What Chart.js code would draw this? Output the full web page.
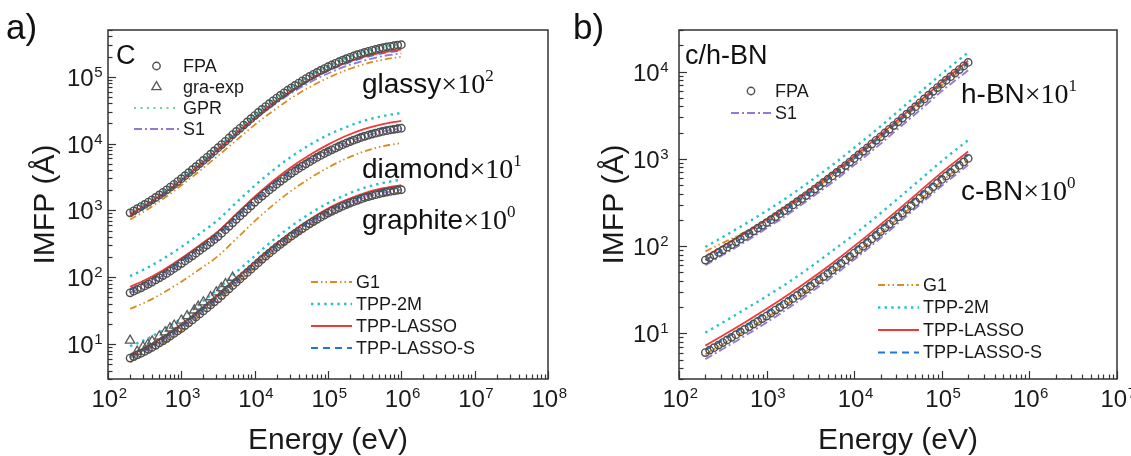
<!DOCTYPE html>
<html>
<head>
<meta charset="utf-8">
<script src="https://cdn.jsdelivr.net/npm/chart.js@4.4.1/dist/chart.umd.min.js"></script>
<style>
  html, body { margin: 0; padding: 0; background: #fff; }
  #wrap { position: relative; width: 1131px; height: 456px; overflow: hidden; background: #fff; }
  canvas { position: absolute; top: 0; }
  #chartA { left: 0; z-index: 2; }
  #chartB { left: 565px; z-index: 1; }
</style>
</head>
<body>
<div id="wrap">
  <canvas id="chartA" width="585" height="456"></canvas>
  <canvas id="chartB" width="566" height="456"></canvas>
</div>
<script>
// ============================================================================
// IMFP vs energy - panel a) carbon, panel b) c/h-BN
// ============================================================================

// ---- panel a) energies (eV) ----
const energyA = [200, 224, 251, 282, 316, 355, 398, 447, 501, 562, 631, 708, 794, 891,
    1000, 1122, 1259, 1413, 1585, 1778, 1995, 2239, 2512, 2818, 3162, 3548, 3981, 4467, 5012, 5623, 6310, 7079, 7943, 8913,
    10000, 11220, 12589, 14125, 15849, 17783, 19953, 22387, 25119, 28184, 31623, 35481, 39811, 44668, 50119, 56234, 63096, 70795, 79433, 89125,
    100000, 112202, 125893, 141254, 158489, 177828, 199526, 223872, 251189, 281838, 316228, 354813, 398107, 446684, 501187, 562341, 630957, 707946, 794328, 891251,
    1000000];
const energyLineA = [200, 316, 562, 1000, 1778, 3162, 5623, 10000, 17783, 31623, 56234, 100000, 177828, 316228, 562341, 1000000];

// FPA IMFP (Å), unscaled
const glassyFPA = [9.18, 9.84, 10.6, 11.4, 12.3, 13.3, 14.4, 15.6, 17.0, 18.6, 20.3, 22.3, 24.5, 27.0,
    29.8, 33.0, 36.6, 40.6, 45.1, 50.1, 55.8, 62.2, 69.3, 77.4, 86.5, 96.6, 108, 121, 136, 152, 169, 189, 211, 236,
    262, 292, 324, 358, 395, 436, 479, 525, 574, 627, 682, 741, 804, 869, 938, 1009, 1084, 1161, 1242, 1324,
    1409, 1496, 1585, 1675, 1766, 1858, 1950, 2042, 2133, 2223, 2312, 2399, 2483, 2564, 2642, 2716, 2786, 2851, 2911, 2965,
    3013];
const diamondFPA = [5.85, 6.18, 6.55, 6.95, 7.40, 7.91, 8.47, 9.10, 9.79, 10.6, 11.4, 12.4, 13.5, 14.7,
    16.0, 17.5, 19.1, 20.9, 22.9, 25.1, 27.6, 30.3, 33.3, 36.7, 40.5, 45.5, 51.3, 57.8, 65.2, 73.5, 82.6, 92.9, 104, 117,
    132, 147, 164, 182, 202, 223, 247, 272, 299, 327, 358, 390, 424, 459, 497, 536, 577, 619, 664, 710,
    757, 806, 857, 909, 962, 1015, 1069, 1123, 1178, 1232, 1285, 1336, 1384, 1430, 1476, 1519, 1560, 1598, 1633, 1665,
    1694];
const graphiteFPA = [6.17, 6.50, 6.89, 7.29, 7.74, 8.30, 8.91, 9.59, 10.4, 11.2, 12.1, 13.2, 14.4, 15.7,
    17.1, 18.9, 20.8, 23.0, 25.5, 28.2, 31.3, 34.7, 38.5, 42.8, 47.5, 53.2, 59.7, 67.0, 75.2, 84.3, 94.4, 106, 118, 132,
    148, 165, 185, 206, 229, 254, 281, 310, 341, 375, 411, 450, 491, 535, 581, 630, 681, 735, 791, 849,
    910, 970, 1030, 1093, 1156, 1221, 1285, 1351, 1416, 1481, 1545, 1606, 1663, 1720, 1774, 1826, 1875, 1921, 1963, 2002,
    2037];

// graphite experiment
const graExpE = [200, 250, 300, 350, 400, 500, 600, 700, 800, 1000, 1200, 1500, 1700, 2000, 2500, 3000, 3500, 4000, 5000];
const graExpV = [11.3, 7.73, 9.06, 9.89, 11.0, 13.0, 15.1, 17.2, 19.0, 22.6, 26.4, 32.0, 36.5, 42.3, 50.5, 59.7, 69.2, 79.1, 98.9];

// model curves (Å), on energyLineA
const glassyGPR = [9.18, 12.3, 18.6, 29.8, 50.1, 86.5, 152, 262, 436, 682, 1009, 1409, 1858, 2312, 2716, 3013];
const glassy2M = [9.4, 12.6, 19.0, 30.5, 51.3, 88.5, 155, 268, 446, 698, 1033, 1442, 1901, 2366, 2779, 3083];
const glassyLasso = [8.77, 11.7, 17.7, 28.4, 47.9, 81.7, 142, 242, 397, 615, 899, 1242, 1618, 1991, 2312, 2535];
const glassyLassoS = [8.18, 11.2, 17.1, 27.8, 46.8, 80.7, 140, 239, 393, 608, 889, 1227, 1581, 1945, 2259, 2477];
const glassyS1 = [8.38, 11.2, 16.9, 27.2, 45.7, 78.0, 135, 229, 371, 568, 820, 1119, 1442, 1754, 2037, 2234];
const glassyG1 = [7.29, 9.75, 14.8, 23.7, 38.9, 65.6, 112, 190, 308, 478, 698, 964, 1256, 1545, 1795, 1991];

const diamond2M = [10.4, 13.2, 18.8, 28.4, 44.7, 71.9, 131, 234, 397, 637, 953, 1346, 1764, 2208, 2580, 2877];
const diamondLasso = [7.19, 9.0, 12.7, 19.2, 30.2, 48.6, 88.3, 160, 275, 446, 675, 964, 1308, 1656, 1957, 2183];
const diamondLassoS = [6.56, 8.20, 11.6, 17.5, 27.5, 44.4, 80.5, 144, 248, 397, 601, 849, 1139, 1442, 1704, 1901];
const diamondS1 = [5.85, 7.40, 10.6, 16.0, 25.1, 40.5, 73.5, 132, 223, 358, 536, 757, 1015, 1285, 1519, 1694];
const diamondG1 = [3.37, 4.16, 5.81, 8.59, 13.2, 20.7, 37.7, 69.0, 120, 197, 301, 436, 598, 766, 915, 1021];

const graphite2M = [9.33, 11.5, 16.2, 24.2, 39.8, 67.1, 119, 208, 358, 581, 889, 1285, 1724, 2183, 2580, 2877];
const graphiteLasso = [6.92, 8.69, 12.6, 19.2, 31.6, 53.3, 94.6, 166, 288, 472, 731, 1069, 1434, 1816, 2146, 2393];
const graphiteLassoS = [6.61, 8.30, 12.0, 18.4, 30.2, 50.9, 90.4, 158, 272, 441, 675, 975, 1308, 1656, 1957, 2234];
const graphiteS1 = [6.17, 7.74, 11.2, 17.1, 28.2, 47.5, 84.3, 148, 254, 411, 630, 910, 1221, 1545, 1826, 2037];
const graphiteG1 = [5.37, 6.90, 10.2, 15.8, 26.3, 44.4, 78.7, 138, 234, 375, 574, 830, 1113, 1409, 1665, 1858];

// ---- panel b) energies (eV) ----
const energyB = [200, 224, 251, 282, 316, 355, 398, 447, 501, 562, 631, 708, 794, 891,
    1000, 1122, 1259, 1413, 1585, 1778, 1995, 2239, 2512, 2818, 3162, 3548, 3981, 4467, 5012, 5623, 6310, 7079, 7943, 8913,
    10000, 11220, 12589, 14125, 15849, 17783, 19953, 22387, 25119, 28184, 31623, 35481, 39811, 44668, 50119, 56234, 63096, 70795, 79433, 89125,
    100000, 112202, 125893, 141254, 158489, 177828, 200000];
const energyLineB = [200, 316, 562, 1000, 1778, 3162, 5623, 10000, 17783, 31623, 56234, 100000, 200000];

const hbnFPA = [6.92, 7.39, 7.90, 8.46, 9.07, 9.73, 10.4, 11.2, 12.0, 12.9, 13.9, 14.9, 16.1, 17.3,
    18.6, 20.1, 21.7, 23.5, 25.4, 27.4, 29.7, 32.3, 35.0, 38.0, 41.3, 45.1, 49.1, 53.6, 58.4, 63.7, 69.8, 76.5, 83.8, 91.8,
    101, 111, 122, 134, 148, 163, 179, 198, 218, 241, 266, 294, 325, 359, 397, 439, 486, 537, 594, 657,
    726, 797, 876, 962, 1056, 1160, 1274];
const cbnFPA = [6.03, 6.43, 6.86, 7.34, 7.85, 8.41, 9.02, 9.66, 10.4, 11.1, 11.9, 12.8, 13.7, 14.8,
    15.8, 17.1, 18.5, 19.9, 21.5, 23.2, 25.1, 27.2, 29.5, 32.0, 34.7, 37.8, 41.1, 44.8, 48.8, 53.1, 58.1, 63.5, 69.5, 76.0,
    83.2, 91.4, 100, 110, 121, 133, 147, 162, 178, 196, 216, 239, 264, 291, 321, 355, 392, 433, 478, 527,
    582, 638, 700, 767, 841, 923, 1012];

const hbn2M = [9.77, 12.7, 17.8, 25.4, 37.0, 55.7, 85.0, 134, 214, 350, 579, 946, 1660];
const hbnLasso = [7.59, 9.95, 14.0, 20.2, 29.4, 44.3, 68.3, 107, 172, 281, 460, 760, 1334];
const hbnLassoS = [6.92, 9.07, 12.9, 18.6, 27.4, 41.3, 63.7, 101, 163, 266, 439, 726, 1245];
const hbnS1 = [6.03, 7.90, 11.1, 16.0, 23.3, 35.2, 53.6, 84.7, 135, 221, 361, 597, 1035];
const hbnG1 = [8.71, 10.9, 14.5, 19.9, 28.7, 42.3, 63.7, 101, 159, 260, 424, 693, 1216];

const cbn2M = [10.2, 13.3, 18.8, 26.6, 38.5, 57.5, 88.1, 136, 216, 351, 575, 944, 1641];
const cbnLasso = [7.24, 9.44, 13.3, 19.1, 27.9, 41.7, 63.8, 100, 160, 260, 427, 700, 1216];
const cbnLassoS = [6.46, 8.41, 12.0, 17.4, 25.4, 38.0, 58.2, 91.2, 146, 237, 389, 638, 1109];
const cbnS1 = [5.07, 6.61, 9.33, 13.3, 19.5, 29.2, 44.7, 70.0, 112, 182, 299, 490, 851];
const cbnG1 = [5.75, 7.50, 10.6, 15.1, 22.1, 33.1, 50.7, 79.4, 127, 207, 339, 556, 966];

// multipliers written on the plot
const scaleGlassy = 100, scaleDiamond = 10, scaleGraphite = 1, scaleHBN = 10, scaleCBN = 1;

// axis ticks
const xTicksA = [1e2, 1e3, 1e4, 1e5, 1e6, 1e7, 1e8];
const yTicksA = [1e1, 1e2, 1e3, 1e4, 1e5];
const xTicksB = [1e2, 1e3, 1e4, 1e5, 1e6, 1e7];
const yTicksB = [1e1, 1e2, 1e3, 1e4];

// ============================================================================
const SANS = "'Liberation Sans', Arial, Helvetica, sans-serif";
const SERIF = "'Liberation Serif', 'Times New Roman', serif";
const INK = '#1a1a1a';

const ST = {
    FPA: { type: 'marker', pointStyle: 'circle', r: 3.7, color: '#4f4f4f', width: 1.4 },
    EXP: { type: 'marker', pointStyle: 'triangle', r: 5.4, color: '#5a5a5a', width: 1.3 },
    GPR: { type: 'line', color: '#6fd39c', width: 2.2, dash: [2, 4.5] },
    S1: { type: 'line', color: '#9478d6', width: 1.8, dash: [8, 3, 2, 3] },
    G1: { type: 'line', color: '#dc8b1e', width: 1.8, dash: [7, 3, 1.5, 3, 1.5, 3] },
    TPP2M: { type: 'line', color: '#27c1c8', width: 2.4, dash: [2.4, 4.2] },
    LASSO: { type: 'line', color: '#f03a35', width: 1.8, dash: [] },
    LASSOS: { type: 'line', color: '#1d78d4', width: 2, dash: [7, 5] }
};

function series(label, xs, ys, k, key) {
    const s = ST[key];
    const data = xs.map((x, i) => ({ x: x, y: ys[i] * k }));
    if (s.type === 'marker') {
        return {
            label, data, showLine: false, pointStyle: s.pointStyle, pointRadius: s.r,
            pointBorderWidth: s.width, pointBorderColor: s.color, pointBackgroundColor: 'rgba(0,0,0,0)',
            borderColor: s.color, backgroundColor: 'rgba(0,0,0,0)'
        };
    }
    return {
        label, data, borderColor: s.color, borderWidth: s.width, borderDash: s.dash,
        pointRadius: 0, fill: false, cubicInterpolationMode: 'monotone'
    };
}

function drawLogTicks(ctx, scale, area) {
    const lo = Math.floor(Math.log10(scale.min)), hi = Math.ceil(Math.log10(scale.max));
    for (let d = lo; d <= hi; d++) {
        for (let m = 1; m <= 9; m++) {
            const v = m * Math.pow(10, d);
            if (v < scale.min * 0.999 || v > scale.max * 1.001) continue;
            const p = Math.round(scale.getPixelForValue(v)) + 0.5;
            const len = m === 1 ? 8 : 4.5;
            ctx.beginPath();
            if (scale.isHorizontal()) { ctx.moveTo(p, area.bottom); ctx.lineTo(p, area.bottom - len); }
            else { ctx.moveTo(area.left, p); ctx.lineTo(area.left + len, p); }
            ctx.stroke();
        }
    }
}

// "10" with a raised exponent; x = anchor, align 'center' or 'right'
function drawPow(ctx, v, x, baseY, align) {
    const e = String(Math.round(Math.log10(v)));
    ctx.font = '24px ' + SANS;
    const wb = ctx.measureText('10').width;
    ctx.font = '15px ' + SANS;
    const we = ctx.measureText(e).width;
    const x0 = align === 'right' ? x - wb - we : x - (wb + we) / 2;
    ctx.font = '24px ' + SANS;
    ctx.fillText('10', x0, baseY);
    ctx.font = '15px ' + SANS;
    ctx.fillText(e, x0 + wb + 0.5, baseY - 9);
}

function drawTickLabels(ctx, chart, lab) {
    const { x, y } = chart.scales;
    const a = chart.chartArea;
    ctx.fillStyle = INK;
    ctx.textAlign = 'left';
    ctx.textBaseline = 'alphabetic';
    lab.x.forEach(v => drawPow(ctx, v, x.getPixelForValue(v) + 1, a.bottom + 28, 'center'));
    lab.y.forEach(v => drawPow(ctx, v, a.left - lab.yGap, y.getPixelForValue(v) + 9, 'right'));
}

function drawLegend(ctx, leg) {
    leg.items.forEach((it, i) => {
        const y = leg.y + i * leg.gap;
        const s = ST[it.key];
        ctx.save();
        ctx.strokeStyle = s.color;
        ctx.lineWidth = s.width;
        if (s.type === 'marker') {
            ctx.setLineDash([]);
            ctx.fillStyle = 'rgba(0,0,0,0)';
            Chart.helpers.drawPoint(ctx, { pointStyle: s.pointStyle, radius: s.r, borderWidth: s.width }, leg.x + leg.len / 2, y);
        } else {
            ctx.setLineDash(s.dash);
            ctx.beginPath();
            ctx.moveTo(leg.x, y);
            ctx.lineTo(leg.x + leg.len, y);
            ctx.stroke();
        }
        ctx.restore();
        ctx.font = '18px ' + SANS;
        ctx.textBaseline = 'middle';
        ctx.textAlign = 'left';
        ctx.fillStyle = INK;
        ctx.fillText(it.text, leg.x + leg.len + leg.pad, y + 1);
    });
}

function drawNote(ctx, note) {
    let x = note.x;
    ctx.textBaseline = 'alphabetic';
    ctx.textAlign = 'left';
    ctx.fillStyle = '#111';
    note.parts.forEach(p => {
        ctx.font = p.font;
        ctx.fillText(p.t, x, note.y + (p.dy || 0));
        x += ctx.measureText(p.t).width + (p.gap || 0);
    });
}

function makeDecor(decor) {
    return {
        id: 'decor',
        afterDatasetsDraw(chart) {
            const { ctx, chartArea: a, scales } = chart;
            ctx.save();
            ctx.strokeStyle = '#333';
            ctx.lineWidth = 1.5;
            ctx.strokeRect(a.left, a.top, a.right - a.left, a.bottom - a.top);
            ctx.lineWidth = 1.2;
            drawLogTicks(ctx, scales.x, a);
            drawLogTicks(ctx, scales.y, a);
            drawTickLabels(ctx, chart, decor.labels);
            decor.legends.forEach(l => drawLegend(ctx, l));
            decor.notes.forEach(n => drawNote(ctx, n));
            ctx.restore();
        }
    };
}

function multNote(x, y, name, exp) {
    return {
        x, y, parts: [
            { t: name, font: '28px ' + SANS },
            { t: '×10', font: '28px ' + SERIF },
            { t: exp, font: '17px ' + SERIF, dy: -12 }
        ]
    };
}

function makeChart(id, cfg) {
    return new Chart(document.getElementById(id), {
        type: 'line',
        data: { datasets: cfg.datasets },
        options: {
            responsive: false,
            animation: false,
            devicePixelRatio: 1,
            layout: { padding: cfg.padding },
            plugins: { legend: { display: false }, tooltip: { enabled: false } },
            scales: {
                x: {
                    type: 'logarithmic', min: cfg.xMin, max: cfg.xMax,
                    afterBuildTicks: s => { s.ticks = cfg.xTicks.map(v => ({ value: v })); },
                    afterFit: s => { s.height = 77; },
                    grid: { display: false }, border: { display: false },
                    ticks: { display: false },
                    title: { display: true, text: 'Energy (eV)', font: { family: SANS, size: 30, lineHeight: 1 }, color: INK, padding: { top: 0, bottom: 0 } }
                },
                y: {
                    type: 'logarithmic', min: cfg.yMin, max: cfg.yMax,
                    afterBuildTicks: s => { s.ticks = cfg.yTicks.map(v => ({ value: v })); },
                    afterFit: s => { s.width = cfg.yWidth; },
                    grid: { display: false }, border: { display: false },
                    ticks: { display: false },
                    title: { display: true, text: 'IMFP (Å)', font: { family: SANS, size: 30, lineHeight: 1.2 }, color: INK, padding: { top: cfg.yTitlePad, bottom: 0 } }
                }
            }
        },
        plugins: [makeDecor(cfg.decor)]
    });
}

// ---- panel a ----
makeChart('chartA', {
    xMin: 1e2, xMax: 1e8, yMin: 3, yMax: 5e5,
    xTicks: xTicksA, yTicks: yTicksA, yWidth: 108, yTitlePad: 28,
    padding: { left: 0, right: 37, top: 30, bottom: 0 },
    datasets: [
        series('FPA glassy', energyA, glassyFPA, scaleGlassy, 'FPA'),
        series('FPA diamond', energyA, diamondFPA, scaleDiamond, 'FPA'),
        series('FPA graphite', energyA, graphiteFPA, scaleGraphite, 'FPA'),
        series('gra-exp', graExpE, graExpV, scaleGraphite, 'EXP'),
        series('TPP-LASSO glassy', energyLineA, glassyLasso, scaleGlassy, 'LASSO'),
        series('TPP-LASSO diamond', energyLineA, diamondLasso, scaleDiamond, 'LASSO'),
        series('TPP-LASSO graphite', energyLineA, graphiteLasso, scaleGraphite, 'LASSO'),
        series('TPP-LASSO-S glassy', energyLineA, glassyLassoS, scaleGlassy, 'LASSOS'),
        series('TPP-LASSO-S diamond', energyLineA, diamondLassoS, scaleDiamond, 'LASSOS'),
        series('TPP-LASSO-S graphite', energyLineA, graphiteLassoS, scaleGraphite, 'LASSOS'),
        series('GPR glassy', energyLineA, glassyGPR, scaleGlassy, 'GPR'),
        series('TPP-2M glassy', energyLineA, glassy2M, scaleGlassy, 'TPP2M'),
        series('TPP-2M diamond', energyLineA, diamond2M, scaleDiamond, 'TPP2M'),
        series('TPP-2M graphite', energyLineA, graphite2M, scaleGraphite, 'TPP2M'),
        series('S1 glassy', energyLineA, glassyS1, scaleGlassy, 'S1'),
        series('S1 diamond', energyLineA, diamondS1, scaleDiamond, 'S1'),
        series('S1 graphite', energyLineA, graphiteS1, scaleGraphite, 'S1'),
        series('G1 glassy', energyLineA, glassyG1, scaleGlassy, 'G1'),
        series('G1 diamond', energyLineA, diamondG1, scaleDiamond, 'G1'),
        series('G1 graphite', energyLineA, graphiteG1, scaleGraphite, 'G1')
    ],
    decor: {
        labels: { x: xTicksA, y: yTicksA, yGap: 6 },
        legends: [
            { x: 134, y: 66, gap: 21, len: 45, pad: 4, items: [
                { key: 'FPA', text: 'FPA' }, { key: 'EXP', text: 'gra-exp' },
                { key: 'GPR', text: 'GPR' }, { key: 'S1', text: 'S1' }] },
            { x: 311, y: 282, gap: 22, len: 41, pad: 4, items: [
                { key: 'G1', text: 'G1' }, { key: 'TPP2M', text: 'TPP-2M' },
                { key: 'LASSO', text: 'TPP-LASSO' }, { key: 'LASSOS', text: 'TPP-LASSO-S' }] }
        ],
        notes: [
            { x: 6, y: 39, parts: [{ t: 'a)', font: '35px ' + SANS }] },
            { x: 116, y: 64, parts: [{ t: 'C', font: '27px ' + SANS }] },
            multNote(362, 93, 'glassy', '2'),
            multNote(362, 178, 'diamond', '1'),
            multNote(362, 229, 'graphite', '0')
        ]
    }
});

// ---- panel b ----
makeChart('chartB', {
    xMin: 1e2, xMax: 1e7, yMin: 3, yMax: 3e4,
    xTicks: xTicksB, yTicks: yTicksB, yWidth: 114, yTitlePad: 32,
    padding: { left: 0, right: 14, top: 30, bottom: 0 },
    datasets: [
        series('FPA h-BN', energyB, hbnFPA, scaleHBN, 'FPA'),
        series('FPA c-BN', energyB, cbnFPA, scaleCBN, 'FPA'),
        series('TPP-LASSO h-BN', energyLineB, hbnLasso, scaleHBN, 'LASSO'),
        series('TPP-LASSO c-BN', energyLineB, cbnLasso, scaleCBN, 'LASSO'),
        series('TPP-LASSO-S h-BN', energyLineB, hbnLassoS, scaleHBN, 'LASSOS'),
        series('TPP-LASSO-S c-BN', energyLineB, cbnLassoS, scaleCBN, 'LASSOS'),
        series('TPP-2M h-BN', energyLineB, hbn2M, scaleHBN, 'TPP2M'),
        series('TPP-2M c-BN', energyLineB, cbn2M, scaleCBN, 'TPP2M'),
        series('S1 h-BN', energyLineB, hbnS1, scaleHBN, 'S1'),
        series('S1 c-BN', energyLineB, cbnS1, scaleCBN, 'S1'),
        series('G1 h-BN', energyLineB, hbnG1, scaleHBN, 'G1'),
        series('G1 c-BN', energyLineB, cbnG1, scaleCBN, 'G1')
    ],
    decor: {
        labels: { x: xTicksB, y: yTicksB, yGap: 11 },
        legends: [
            { x: 166, y: 91, gap: 22, len: 40, pad: 4, items: [
                { key: 'FPA', text: 'FPA' }, { key: 'S1', text: 'S1' }] },
            { x: 313, y: 285, gap: 22.5, len: 41, pad: 4, items: [
                { key: 'G1', text: 'G1' }, { key: 'TPP2M', text: 'TPP-2M' },
                { key: 'LASSO', text: 'TPP-LASSO' }, { key: 'LASSOS', text: 'TPP-LASSO-S' }] }
        ],
        notes: [
            { x: 8, y: 39, parts: [{ t: 'b)', font: '35px ' + SANS }] },
            { x: 120, y: 64, parts: [{ t: 'c/h-BN', font: '27px ' + SANS }] },
            multNote(396, 103, 'h-BN', '1'),
            multNote(396, 200, 'c-BN', '0')
        ]
    }
});
</script>
</body>
</html>
